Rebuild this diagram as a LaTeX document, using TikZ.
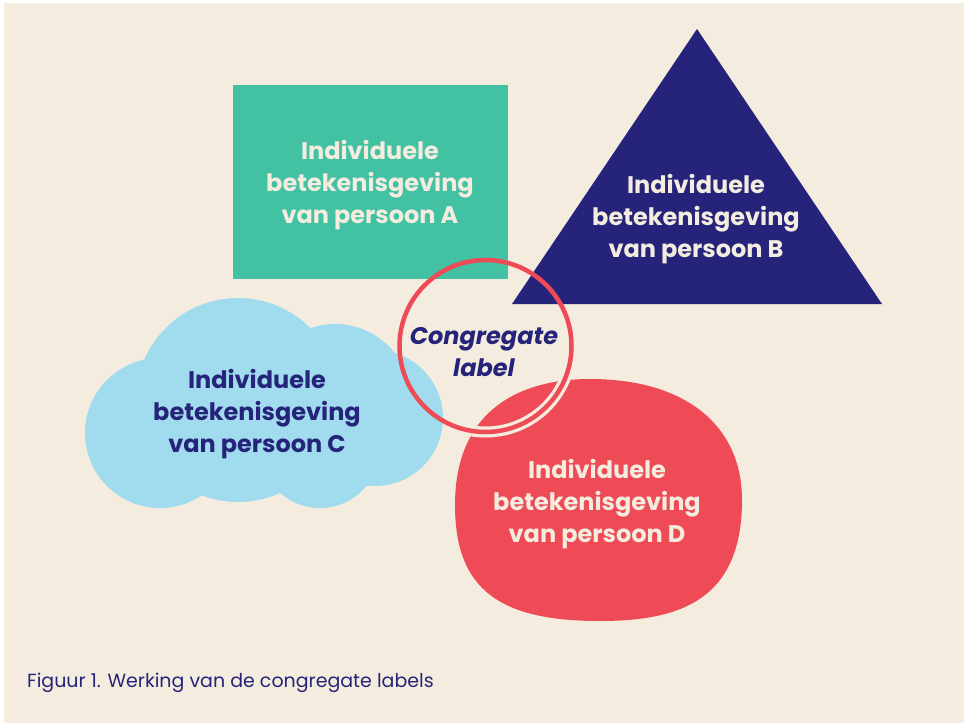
\documentclass[tikz,border=0pt]{standalone}
\usepackage{fontspec}
\setmainfont{Poppins}
\definecolor{bgbeige}{HTML}{F4EDDF}
\definecolor{groen}{HTML}{43C1A3}
\definecolor{navy}{HTML}{26237A}
\definecolor{lichtblauw}{HTML}{A0DBEE}
\definecolor{rood}{HTML}{EF4B57}
\tikzset{
	persoontext/.style={font=\bfseries\fontsize{24}{32}\selectfont, align=center, inner sep=0pt},
}

\begin{document}
\begin{tikzpicture}[x=1pt,y=-1pt]
			%%%%% START %%%%%
			\useasboundingbox (0,0) rectangle (964,723);
			\fill[white] (0,0) rectangle (964,723);
			\fill[bgbeige] (4,3) rectangle (964,723);
			
			% persoon A
			\fill[groen] (233,85) rectangle (508,279);
			
			% persoon B
			\fill[navy] (697,29) -- (882,304) -- (512,304) -- cycle;
			
			% persoon C
			\fill[lichtblauw] (160,433) circle[radius=75] (238,400) circle[radius=102]
				(335,400) circle[radius=76] (375,418) circle[radius=68] (320,448) circle[radius=60];
			
			% persoon D
			\fill[rood, path picture={\draw[bgbeige, line width=11pt] (485.5,346) circle[radius=86];}]
				(455,505) .. controls (455,410) and (520,379) .. (590,379)
				.. controls (685,379) and (742,425) .. (742,500)
				.. controls (742,600) and (680,621) .. (600,621)
				.. controls (500,621) and (455,590) .. (455,505) -- cycle;
			
			% congregate label
			\draw[rood, line width=4.5pt] (485.5,346) circle[radius=86];
			
			\node[persoontext, text=bgbeige] (persoonA) at (370,185) {Individuele\\betekenisgeving\\van persoon A};
			\node[persoontext, text=bgbeige] (persoonB) at (696,219) {Individuele\\betekenisgeving\\van persoon B};
			\node[persoontext, text=navy] (persoonC) at (257,414) {Individuele\\betekenisgeving\\van persoon C};
			\node[persoontext, text=bgbeige] (persoonD) at (597,504) {Individuele\\betekenisgeving\\van persoon D};
			\node[persoontext, font=\bfseries\itshape\fontsize{24}{32}\selectfont, text=navy] (congregate) at (484,352) {Congregate\\label};
			
			\node[anchor=base west, inner sep=0pt, font=\fontsize{19}{22}\selectfont, text=navy] (figuur) at (27,687) {Figuur 1. Werking van de congregate labels};
			%%%%% END %%%%%
\end{tikzpicture}
\end{document}
